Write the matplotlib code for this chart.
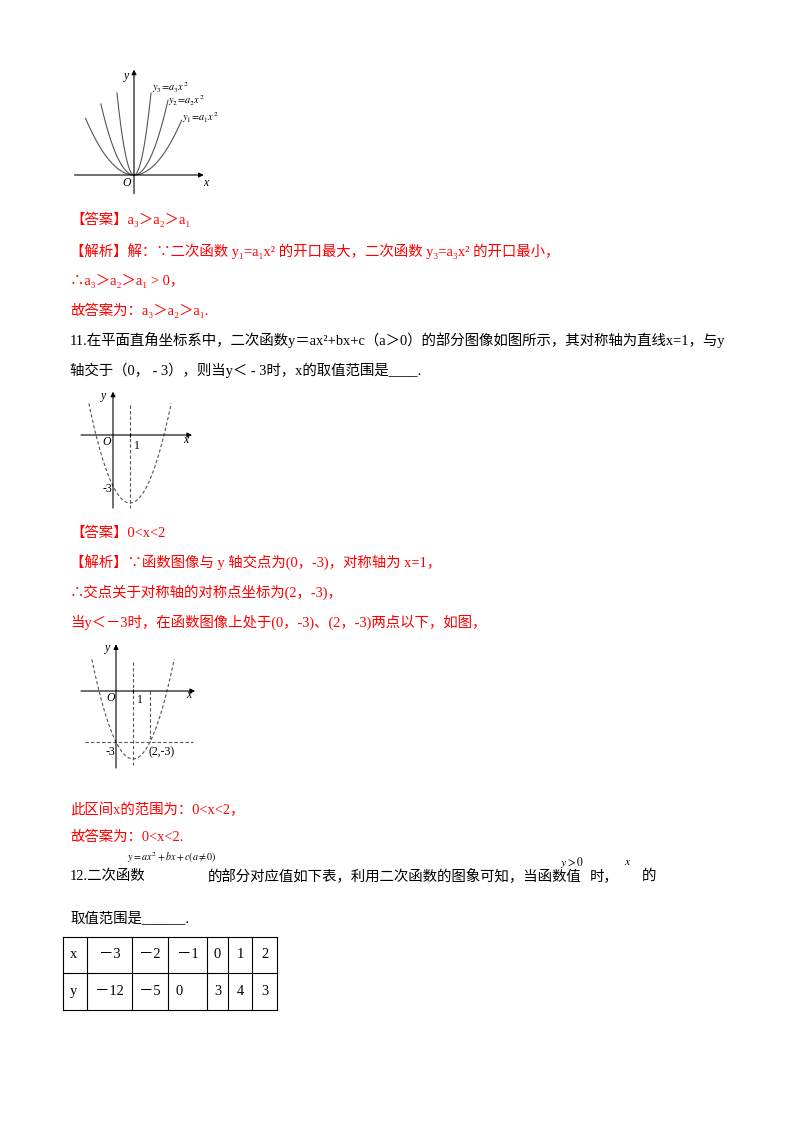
import numpy as np
import matplotlib
matplotlib.use("Agg")
import matplotlib.pyplot as plt

plt.rcParams['font.family'] = ['Liberation Serif', 'DejaVu Serif', 'Noto Sans CJK SC']
plt.rcParams['mathtext.fontset'] = 'stix'

W, H = 800, 1132
RED = '#ff0000'
FS = 10.4

# 图1: y = a x^2 三条抛物线
fig1_a = [0.41, 1.1, 4.82]          # a1, a2, a3
fig1_xmin = [-2.85, -1.95, -1.0]
fig1_xmax = [2.8, 2.0, 1.0]
fig1_labels = ['$y_1\\!=\\!a_1x^2$', '$y_2\\!=\\!a_2x^2$', '$y_3\\!=\\!a_3x^2$']

# 图2/图3: y = x^2 - 2x - 3
quad_coef = [1, -2, -3]
quad_x = [-1.42, 3.42]
sym_x = 1
point_a = (0, -3)
point_b = (2, -3)

# 表格
table_x = [-3, -2, -1, 0, 1, 2]
table_y = [-12, -5, 0, 3, 4, 3]

fig = plt.figure(figsize=(W / 100, H / 100), dpi=100)
page = fig.add_axes([0, 0, 1, 1])
page.set_xlim(0, W)
page.set_ylim(H, 0)
page.axis('off')


def px_axes(x0, y0, x1, y1, ox, oy, unit=17.0):
    ax = fig.add_axes([x0 / W, 1 - y1 / H, (x1 - x0) / W, (y1 - y0) / H])
    ax.set_xlim((x0 - ox) / unit, (x1 - ox) / unit)
    ax.set_ylim((oy - y1) / unit, (oy - y0) / unit)
    ax.axis('off')
    return ax


def arrow(ax, p0, p1):
    ax.annotate('', xy=p1, xytext=p0,
                arrowprops=dict(arrowstyle='-|>', lw=0.8, color='k',
                                mutation_scale=7, shrinkA=0, shrinkB=0))


def lab(ax, x, y, s, italic=True, size=8.5, ha='center'):
    ax.text(x, y, s, fontsize=size, ha=ha, va='center',
            style='italic' if italic else 'normal')


# ---------- 图1 ----------
ax1 = px_axes(68, 62, 225, 195, 134, 175)
arrow(ax1, (-3.5, 0), (4.1, 0))
arrow(ax1, (0, -1.1), (0, 6.2))
for a, lo, hi in zip(fig1_a, fig1_xmin, fig1_xmax):
    xs = np.linspace(lo, hi, 200)
    ax1.plot(xs, a * xs ** 2, color='#555555', lw=0.8)
lab(ax1, -0.45, 5.85, 'y')
lab(ax1, -0.45, -0.45, 'O')
lab(ax1, 4.2, -0.5, 'x')
for s, (lx, ly) in zip(fig1_labels, [(2.85, 3.4), (2.0, 4.4), (1.05, 5.15)]):
    ax1.text(lx, ly, s, fontsize=7.5, ha='left', va='center')

# ---------- 文字 ----------
lines1 = [
    (219, '【答案】a₃＞a₂＞a₁', RED),
    (251, '【解析】解：∵二次函数 y₁=a₁x² 的开口最大，二次函数 y₃=a₃x² 的开口最小，', RED),
    (281, '∴a₃＞a₂＞a₁ > 0，', RED),
    (310, '故答案为：a₃＞a₂＞a₁.', RED),
    (340, '11.在平面直角坐标系中，二次函数y＝ax²+bx+c（a＞0）的部分图像如图所示，其对称轴为直线x=1，与y', 'k'),
    (370, '轴交于（0， - 3），则当y＜ - 3时，x的取值范围是____.', 'k'),
    (533, '【答案】0<x<2', RED),
    (562, '【解析】∵函数图像与 y 轴交点为(0，-3)，对称轴为 x=1，', RED),
    (592, '∴交点关于对称轴的对称点坐标为(2，-3)，', RED),
    (622, '当y＜－3时，在函数图像上处于(0，-3)、(2，-3)两点以下，如图，', RED),
    (810, '此区间x的范围为：0<x<2，', RED),
    (837, '故答案为：0<x<2.', RED),
    (918, '取值范围是______.', 'k'),
]
for y, s, c in lines1:
    page.text(70, y, s, fontsize=FS, color=c, ha='left', va='center')

# 第12题首行（含行内公式）
page.text(70, 876, '12.二次函数', fontsize=FS, ha='left', va='center')
page.text(127, 858, '$y=ax^2+bx+c\\left(a\\neq0\\right)$', fontsize=7.2, ha='left', va='center')
page.text(208, 876, '的部分对应值如下表，利用二次函数的图象可知，当函数值', fontsize=FS, ha='left', va='center')
page.text(560, 862, '$y>0$', fontsize=8.5, ha='left', va='center')
page.text(590, 876, '时，', fontsize=FS, ha='left', va='center')
page.text(624, 862, '$x$', fontsize=8.5, ha='left', va='center')
page.text(642, 876, '的', fontsize=FS, ha='left', va='center')

# ---------- 图2 ----------
xs = np.linspace(quad_x[0], quad_x[1], 200)
ys = np.polyval(quad_coef, xs)

ax2 = px_axes(75, 385, 205, 512, 113, 435)
arrow(ax2, (-1.88, 0), (4.65, 0))
arrow(ax2, (0, -4.3), (0, 2.55))
ax2.plot(xs, ys, color='#555555', lw=0.8, ls=(0, (3, 2)))
ax2.plot([sym_x, sym_x], [1.76, -4.3], color='#555555', lw=0.8, ls=(0, (3, 2)))
ax2.plot([sym_x], [0], marker='|', color='k', ms=3, mew=0.8)
lab(ax2, -0.53, 2.3, 'y')
lab(ax2, -0.35, -0.42, 'O')
lab(ax2, 1.38, -0.65, '1', italic=False)
lab(ax2, 4.3, -0.3, 'x')
lab(ax2, -0.05, point_a[1] - 0.2, '-3', italic=False, ha='right')

# ---------- 图3 ----------
ax3 = px_axes(75, 638, 210, 772, 116, 691)
arrow(ax3, (-2.06, 0), (4.65, 0))
arrow(ax3, (0, -4.53), (0, 2.75))
ax3.plot(xs, ys, color='#555555', lw=0.8, ls=(0, (3, 2)))
ax3.plot([sym_x, sym_x], [1.7, -4.35], color='#555555', lw=0.8, ls=(0, (3, 2)))
ax3.plot([point_b[0], point_b[0]], [0, point_b[1]], color='#555555', lw=0.8, ls=(0, (3, 2)))
ax3.plot([-1.82, 4.53], [point_a[1], point_b[1]], color='#555555', lw=0.8, ls=(0, (3, 2)))
ax3.plot([sym_x], [0], marker='|', color='k', ms=3, mew=0.8)
lab(ax3, -0.47, 2.5, 'y')
lab(ax3, -0.3, -0.42, 'O')
lab(ax3, 1.38, -0.55, '1', italic=False)
lab(ax3, 4.3, -0.25, 'x')
lab(ax3, -0.05, point_a[1] - 0.6, '-3', italic=False, ha='right')
lab(ax3, point_b[0] - 0.1, point_b[1] - 0.6, '(%d,%d)' % point_b, italic=False, ha='left')

# ---------- 表格 ----------
col_edges = [63, 87, 132, 168, 207, 228, 252, 277]
row_edges = [937, 973, 1010]


def fmt(v):
    return '－%d' % (-v) if v < 0 else str(v)


for xe in col_edges:
    page.plot([xe, xe], [row_edges[0], row_edges[-1]], color='k', lw=0.8)
for ye in row_edges:
    page.plot([col_edges[0], col_edges[-1]], [ye, ye], color='k', lw=0.8)

for r, (name, vals) in enumerate([('x', table_x), ('y', table_y)]):
    yc = (row_edges[r] + row_edges[r + 1]) / 2
    page.text(col_edges[0] + 7, yc, name, fontsize=FS, ha='left', va='center')
    for i, v in enumerate(vals):
        xl, xr = col_edges[i + 1], col_edges[i + 2]
        if r == 1 and v == 0 and i == 2:
            page.text(xl + 7, yc, fmt(v), fontsize=FS, ha='left', va='center')
        else:
            page.text((xl + xr) / 2, yc, fmt(v), fontsize=FS, ha='center', va='center')

fig.savefig('out.png', dpi=100)
